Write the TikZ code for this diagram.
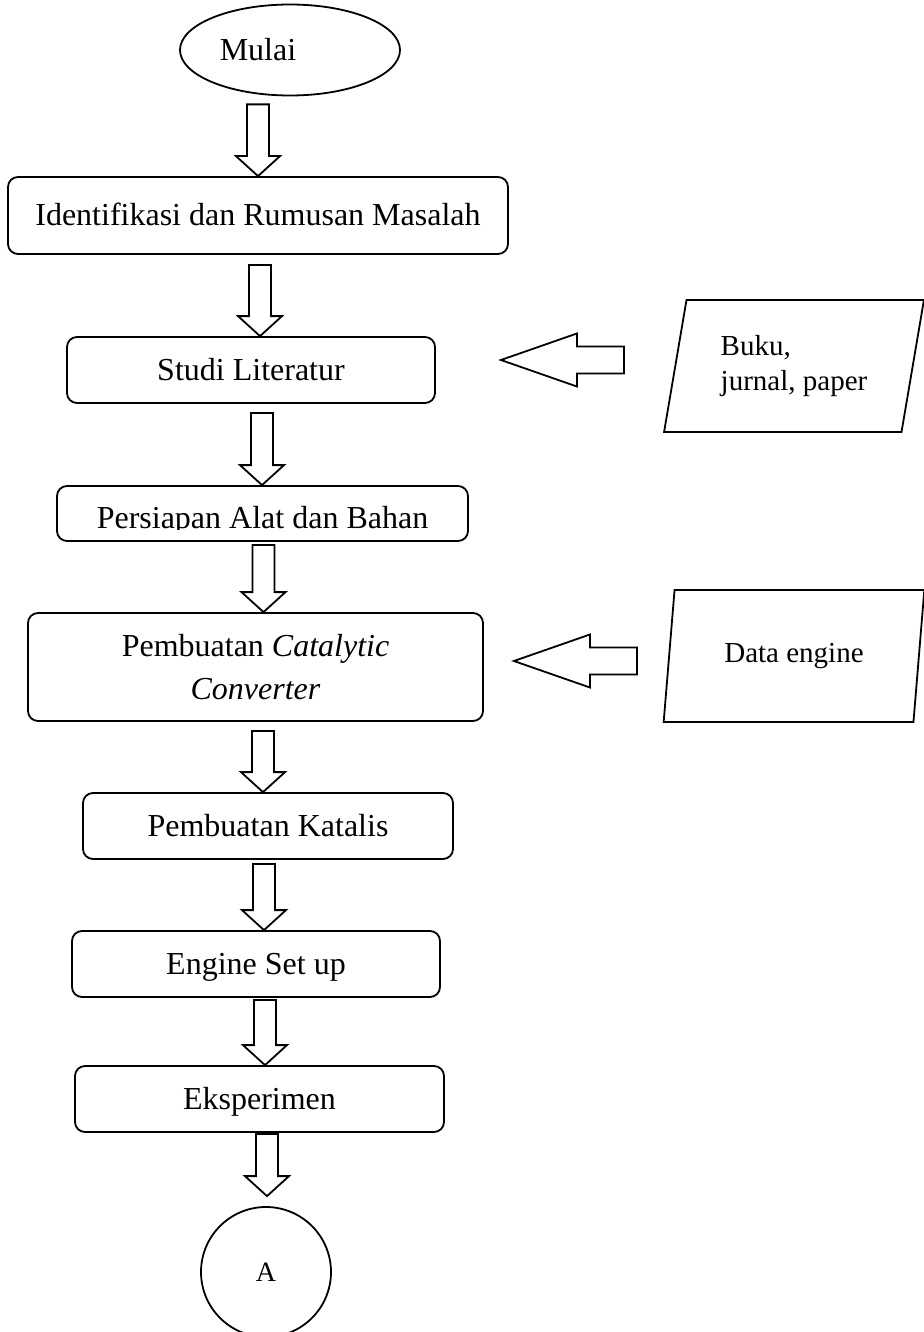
\documentclass[tikz,border=0pt]{standalone}
\usepackage{fontspec}
\setmainfont{Liberation Serif}
\usepackage{tikz}
\usetikzlibrary{positioning,calc,shapes.geometric}

\begin{document}
\begin{tikzpicture}[
  x=0.5pt, y=-0.5pt,
  pbox/.style={draw, line width=0.9pt, rounded corners=5pt, inner sep=0pt, align=center, font=\fontsize{16}{21.5}\selectfont},
  oneline/.style={text height=12pt, text depth=2pt},
  term/.style={ellipse, draw, line width=0.9pt, inner sep=0pt, minimum width=110pt, minimum height=45.5pt},
  conn/.style={circle, draw, line width=0.9pt, inner sep=0pt, minimum size=65pt, font=\fontsize{14}{16}\selectfont},
  io/.style={trapezium, trapezium left angle=76, trapezium right angle=104, trapezium stretches=true, draw, line width=0.9pt, inner sep=0pt, minimum width=131pt, minimum height=66pt, align=left, font=\fontsize{14.5}{17.5}\selectfont},
  fat/.style={draw, line width=0.9pt, line join=miter},
  lbl/.style={font=\fontsize{16}{21.5}\selectfont},
]
\useasboundingbox (0,0) rectangle (923,1332);

% Main flow
\node[term, label={[lbl, xshift=-16pt]center:Mulai}] (mulai) at (290,50) {};
\node[pbox, oneline, minimum width=250pt, minimum height=38.5pt] (b1) at (258,215.5) {Identifikasi dan Rumusan Masalah};
\node[pbox, oneline, minimum width=184pt, minimum height=33pt] (b2) at (251,370) {Studi Literatur};
\node[pbox, minimum width=205.5pt, minimum height=27.5pt] (b3) at (262.5,513.5) {};
\begin{scope}
  \clip (b3.north west) rectangle ([yshift=6pt]b3.south east);
  \node[lbl, anchor=base] (b3t) at (262.5,528) {Persiapan Alat dan Bahan};
\end{scope}
\node[pbox, minimum width=227.5pt, minimum height=54pt] (b4) at (255.5,667) {Pembuatan \textit{Catalytic}\\\textit{Converter}};
\node[pbox, oneline, minimum width=185pt, minimum height=33pt] (b5) at (268,826) {Pembuatan Katalis};
\node[pbox, oneline, minimum width=184pt, minimum height=33pt] (b6) at (256,964) {Engine Set up};
\node[pbox, oneline, minimum width=184.5pt, minimum height=33pt] (b7) at (259.5,1099) {Eksperimen};
\node[conn] (ca) at (266,1272) {A};

% Inputs
\node[io] (p1) at (794,366) {Buku,\\jurnal, paper};
\node[io] (p2) at (794,656) {Data engine};

% Down arrows
\coordinate (t1) at ($(mulai.south)+(-32,8)$);
\coordinate (t2) at ($(b1.south)+(2,10)$);
\coordinate (t3) at ($(b2.south)+(11,9)$);
\coordinate (t4) at ($(b3.south)+(1,3)$);
\coordinate (t5) at ($(b4.south)+(7.5,9)$);
\coordinate (t6) at ($(b5.south)+(-4,4)$);
\coordinate (t7) at ($(b6.south)+(9,2)$);
\coordinate (t8) at ($(b7.south)+(7.5,1)$);
\coordinate (h8) at ($(ca.north)+(0,-10)$);
\foreach \t/\h in {t1/b1.north, t2/b2.north, t3/b3.north, t4/b4.north, t5/b5.north, t6/b6.north, t7/b7.north, t8/h8}
  \draw[fat] let \p1=(\t), \p2=(\h) in
    (\x1-5.5pt,\y1) -- (\x1-5.5pt,\y2+10pt) -- (\x1-11pt,\y2+10pt) -- (\x1,\y2)
    -- (\x1+11pt,\y2+10pt) -- (\x1+5.5pt,\y2+10pt) -- (\x1+5.5pt,\y1) -- cycle;

% Side arrows
\coordinate (s1) at ($(p1.center)+(-170,-6)$);
\coordinate (e1) at ($(b2.east)+(65,-10)$);
\coordinate (s2) at ($(p2.center)+(-157,5)$);
\coordinate (e2) at ($(b4.east)+(30,-6)$);
\foreach \t/\h in {s1/e1, s2/e2}
  \draw[fat] let \p1=(\t), \p2=(\h) in
    (\x1,\y1+6.75pt) -- (\x2+38pt,\y1+6.75pt) -- (\x2+38pt,\y1+13.25pt) -- (\x2,\y1)
    -- (\x2+38pt,\y1-13.25pt) -- (\x2+38pt,\y1-6.75pt) -- (\x1,\y1-6.75pt) -- cycle;

\end{tikzpicture}
\end{document}
